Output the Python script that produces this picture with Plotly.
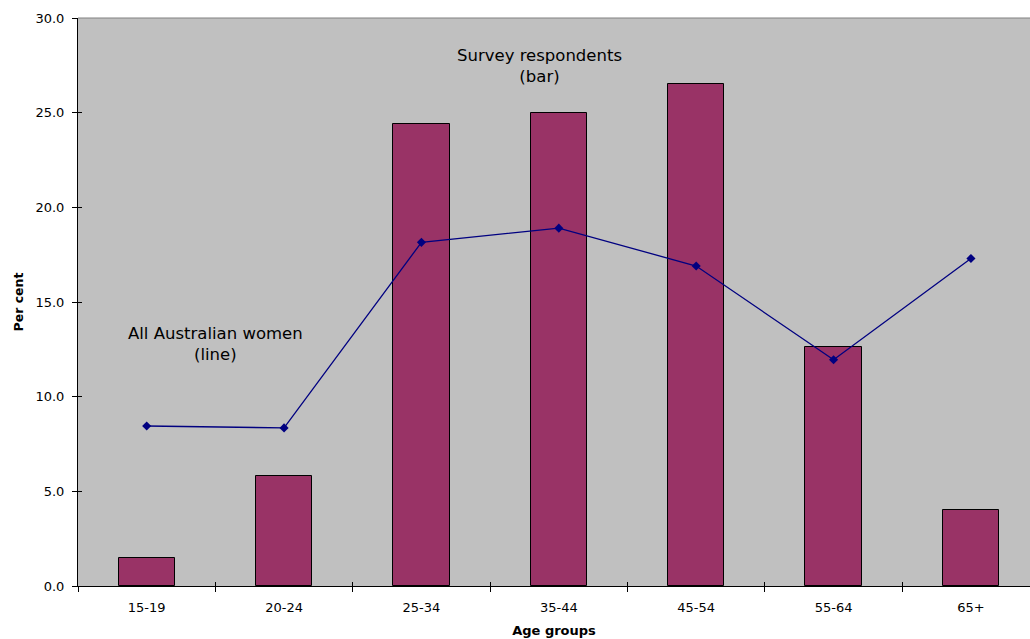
import plotly.graph_objects as go

age_groups = ["15-19", "20-24", "25-34", "35-44", "45-54", "55-64", "65+"]
survey_respondents = [1.5, 5.8, 24.4, 25.0, 26.5, 12.6, 4.0]
all_australian_women = [8.45, 8.35, 18.15, 18.9, 16.9, 11.95, 17.3]
y_ticks = [0, 5, 10, 15, 20, 25, 30]

x_range = [-0.5, 6.43]
y_range = [0, 30]

fig = go.Figure()

fig.add_trace(go.Bar(
    x=age_groups,
    y=survey_respondents,
    width=0.41,
    marker=dict(color="#993366", line=dict(color="#000000", width=1)),
    showlegend=False,
))

fig.add_trace(go.Scatter(
    x=age_groups,
    y=all_australian_women,
    mode="lines+markers",
    line=dict(color="#000080", width=1.3),
    marker=dict(symbol="diamond", size=7, color="#000080"),
    showlegend=False,
))

# Empty trace that keeps the overlay tick axes active
fig.add_trace(go.Scatter(
    x=[], y=[], xaxis="x2", yaxis="y2",
    mode="markers", showlegend=False, hoverinfo="skip",
))

font_family = "DejaVu Sans, Arial, sans-serif"

# Overlay axes that add the inner half of each tick, so ticks cross the axis lines
boundary_ticks = [i - 0.5 for i in range(1, len(age_groups))]

fig.update_layout(
    width=1030,
    height=639,
    margin=dict(l=78, r=0, t=18, b=53),
    paper_bgcolor="#FFFFFF",
    plot_bgcolor="#C0C0C0",
    font=dict(family=font_family, size=13, color="#000000"),
    bargap=0,
    xaxis=dict(
        type="category",
        range=x_range,
        tickson="boundaries",
        ticks="outside",
        ticklen=5,
        tickcolor="#000000",
        showline=True,
        linecolor="#000000",
        linewidth=1,
        showgrid=False,
        zeroline=False,
        tickfont=dict(size=13),
        ticklabelstandoff=9,
        title=dict(text="<b>Age groups</b>", font=dict(size=13), standoff=12),
    ),
    yaxis=dict(
        range=y_range,
        tickvals=y_ticks,
        tickformat=".1f",
        ticks="outside",
        ticklen=5,
        tickcolor="#000000",
        showline=True,
        linecolor="#000000",
        linewidth=1,
        showgrid=False,
        zeroline=False,
        tickfont=dict(size=13),
        ticklabelstandoff=5,
        title=dict(text="<b>Per cent</b>", font=dict(size=12.5), standoff=9),
    ),
    xaxis2=dict(
        overlaying="x",
        anchor="y",
        side="bottom",
        type="linear",
        range=x_range,
        tickvals=boundary_ticks,
        ticks="inside",
        ticklen=4,
        tickcolor="#000000",
        showticklabels=False,
        showgrid=False,
        zeroline=False,
        showline=False,
    ),
    yaxis2=dict(
        overlaying="y",
        anchor="x",
        side="left",
        range=y_range,
        tickvals=y_ticks,
        ticks="inside",
        ticklen=4,
        tickcolor="#000000",
        showticklabels=False,
        showgrid=False,
        zeroline=False,
        showline=False,
    ),
    shapes=[dict(
        type="line", xref="paper", yref="paper",
        x0=0, x1=1, y0=1, y1=1,
        line=dict(color="#808080", width=1),
    )],
    annotations=[
        dict(text="Survey respondents<br>(bar)", x=2.856, y=27.47,
             xref="x", yref="y", showarrow=False,
             font=dict(size=16.5, family=font_family), align="center"),
        dict(text="All Australian women<br>(line)", x=0.5, y=12.78,
             xref="x", yref="y", showarrow=False,
             font=dict(size=16.5, family=font_family), align="center"),
    ],
)

fig.write_html("out.html")
